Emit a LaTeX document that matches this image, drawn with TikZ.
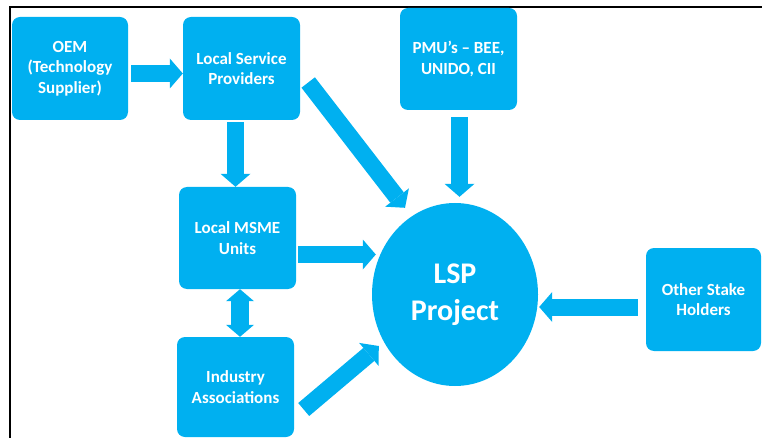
\documentclass[tikz,border=0pt]{standalone}
\usepackage{fontspec}
\setmainfont{Carlito}
\usetikzlibrary{arrows.meta,shapes.geometric}

\definecolor{lspblue}{RGB}{0,176,240}

\tikzset{
    box/.style={fill=lspblue, rounded corners=8pt, text=white, align=center,
        font=\fontsize{17}{20.5}\selectfont\bfseries,
        minimum width=117pt, minimum height=102pt, inner sep=0pt},
    fat/.style={lspblue, line width=17pt,
        -{Triangle[width=30pt,length=13pt,line width=0pt]}},
    fatboth/.style={lspblue, line width=18pt,
        {Triangle[width=28pt,length=12pt,line width=0pt]}-{Triangle[width=28pt,length=12pt,line width=0pt]}},
}

\begin{document}
\begin{tikzpicture}[x=1pt,y=-1pt]

    \useasboundingbox (0,0) rectangle (762,438);
    \clip (0,0) rectangle (762,438);

    % frame
    \draw[line width=1.5pt] (10,438) -- (10,7) -- (762,7);

    % draw boxes
    \node[box, minimum width=116pt, minimum height=103pt] (oem) at (70,68.5) {OEM\\(Technology\\Supplier)};
    \node[box, minimum height=103pt] (lsp) at (241.5,68.5) {Local Service\\Providers};
    \node[box] (msme) at (237.5,238) {Local MSME\\Units};
    \node[box, minimum height=100pt] (ind) at (235.5,387) {Industry\\Associations};
    \node[box] (pmu) at (458.5,59) {PMU’s – BEE,\\UNIDO, CII};
    \node[box, minimum width=115pt, minimum height=103pt] (other) at (703.5,299.5) {Other Stake\\Holders};

    % draw project circle
    \node[ellipse, fill=lspblue, text=white, align=center, inner sep=0pt,
        font=\fontsize{30}{37}\selectfont\bfseries,
        minimum width=166pt, minimum height=183pt] (proj) at (455,294.5) {LSP\\Project};

    % draw arrows
    \draw[fat] ([xshift=3pt,yshift=-5pt]oem.east) -- ([yshift=-5pt]lsp.west);
    \draw[fat] ([xshift=-6pt,yshift=-2pt]lsp.south) -- ([xshift=-2pt]msme.north);
    \draw[fat] ([xshift=8pt,yshift=-14pt]lsp.east) -- ([xshift=-50pt,yshift=-5pt]proj.north);
    \draw[fat] ([xshift=2pt,yshift=-16.5pt]msme.east) -- ([xshift=4pt,yshift=40pt]proj.west);
    \draw[fatboth] ([xshift=2.5pt]msme.south) -- ([xshift=4.5pt]ind.north);
    \draw[fat] ([xshift=9.5pt,yshift=-22.5pt]ind.east) -- ([xshift=7pt,yshift=-51.5pt]proj.west);
    \draw[fat] ([xshift=1pt,yshift=-7pt]pmu.south) -- ([xshift=4.5pt,yshift=6pt]proj.north);
    \draw[fat] ([xshift=-8pt,yshift=-7.5pt]other.west) -- ([xshift=1pt,yshift=-12.5pt]proj.east);

\end{tikzpicture}
\end{document}
